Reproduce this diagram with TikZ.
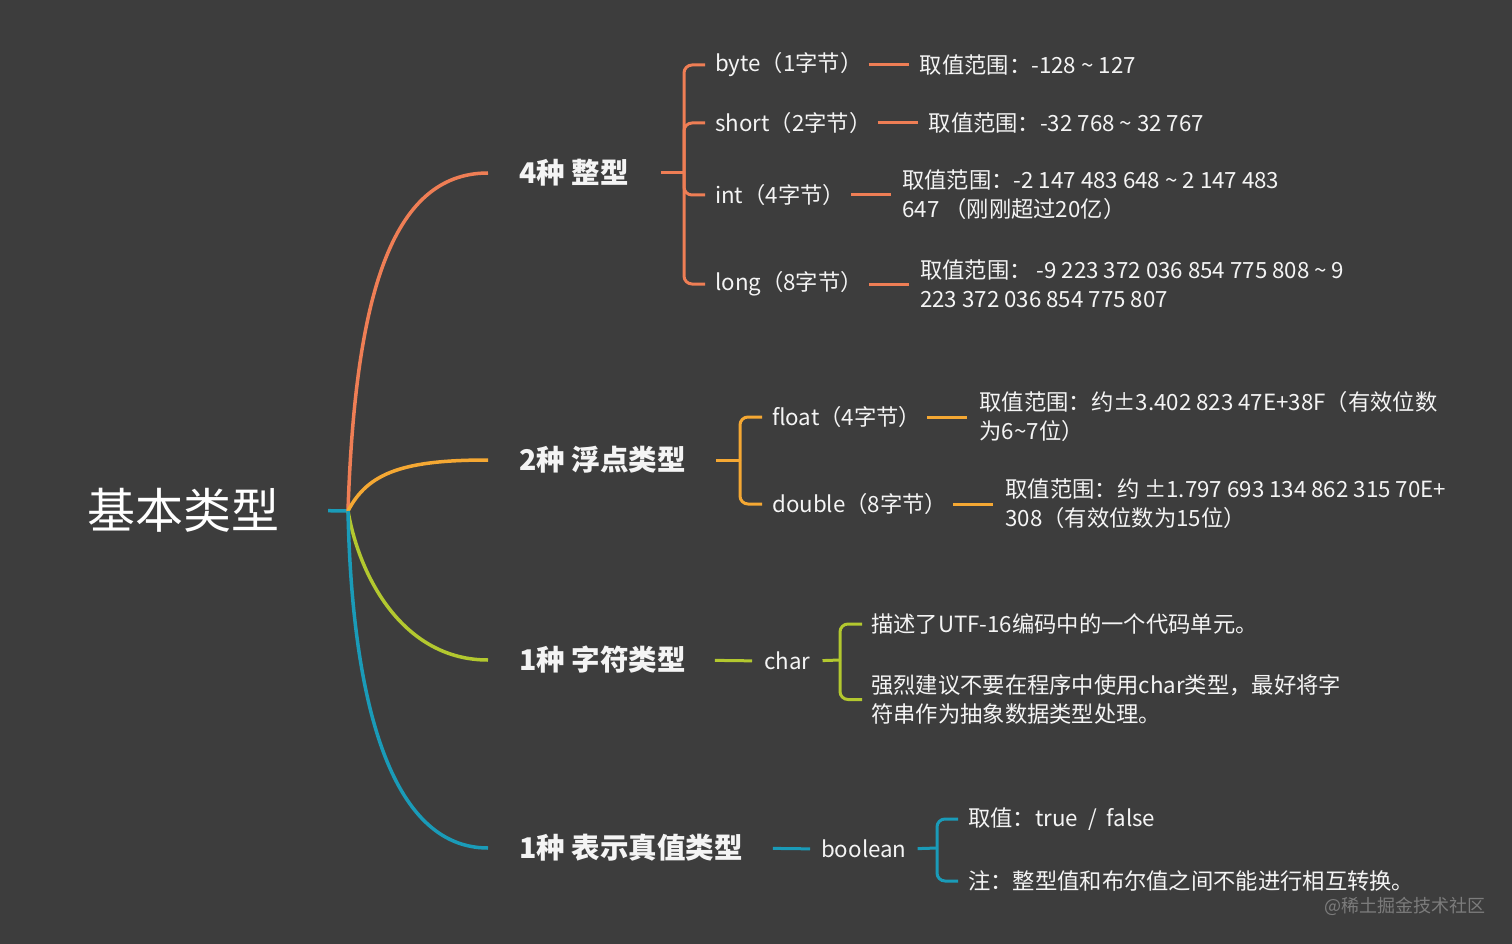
\documentclass[tikz,border=0pt]{standalone}
\usepackage{fontspec}
\setmainfont{Noto Sans CJK SC}
\usetikzlibrary{positioning}
\definecolor{bg}{HTML}{3D3D3D}
\definecolor{corange}{HTML}{EF7E55}
\definecolor{cyellow}{HTML}{F5A833}
\definecolor{cgreen}{HTML}{B3C82F}
\definecolor{cteal}{HTML}{1A9BB8}
\definecolor{txt}{HTML}{F4F4F4}
\definecolor{wm}{HTML}{7C7C7C}
\newcommand{\tld}{\textasciitilde}
\begin{document}
\begin{tikzpicture}[x=1pt,y=-1pt,
  mainline/.style={line width=3.5pt},
  conn/.style={line width=3pt},
  brk/.style={line width=3pt, rounded corners=8pt},
  lbl/.style={inner sep=0pt, anchor=west, text=txt, font=\fontsize{22.3}{29}\selectfont, align=left},
  branch/.style={inner sep=0pt, anchor=west, text=txt, font=\fontsize{28.5}{34}\selectfont\bfseries},
]
\fill[bg] (0,0) rectangle (1512,944);
\useasboundingbox (0,0) rectangle (1512,944);

% root
\node[inner sep=0pt, text=white, font=\fontsize{48}{56}\selectfont] (root) at (183,510) {基本类型};
\coordinate (j) at (348,511);
\draw[mainline, cteal, shorten <=49pt] (root.east) -- (j);

% main branches
\node[branch] (b1) at (519,173) {4种 整型};
\node[branch] (b2) at (519,460) {2种 浮点类型};
\node[branch] (b3) at (519,660) {1种 字符类型};
\node[branch] (b4) at (519,848) {1种 表示真值类型};

\draw[mainline, corange] (j) .. controls (355,300) and (390,173) .. ([xshift=-31pt]b1.west);
\draw[mainline, cyellow] (j) .. controls (368,472) and (405,460) .. ([xshift=-31pt]b2.west);
\draw[mainline, cgreen] (j) .. controls (360,580) and (405,660) .. ([xshift=-31pt]b3.west);
\draw[mainline, cteal] (j) .. controls (352,700) and (390,848) .. ([xshift=-31pt]b4.west);

% ---------- integers ----------
\coordinate (k1) at (684,173);
\draw[conn, corange, shorten <=32pt] (b1.east) -- (k1);
\node[lbl] (byte) at (715,65) {byte（1字节）};
\node[lbl] (short) at (715,123) {short（2字节）};
\node[lbl] (int) at (715,195) {int（4字节）};
\node[lbl] (long) at (715,284) {long（8字节）};
\foreach \c in {byte,short,int,long}
  \draw[brk, corange] (k1) |- ([xshift=-10pt]\c.west);

\node[lbl, right=57pt of byte] (rbyte) {取值范围：-128 \tld{} 127};
\node[lbl, right=57pt of short] (rshort) {取值范围：-32 768 \tld{} 32 767};
\node[lbl, right=57pt of int] (rint) {取值范围：-2 147 483 648 \tld{} 2 147 483\\647 （刚刚超过20亿）};
\node[lbl, right=57pt of long] (rlong) {取值范围： -9 223 372 036 854 775 808 \tld{} 9\\223 372 036 854 775 807};
\draw[conn, corange, shorten <=6pt, shorten >=11pt] (byte.east) -- (rbyte.west);
\draw[conn, corange, shorten <=6pt, shorten >=11pt] (short.east) -- (rshort.west);
\draw[conn, corange, shorten <=6pt, shorten >=11pt] (int.east) -- (rint.west);
\draw[conn, corange, shorten <=6pt, shorten >=11pt] (long.east) -- (rlong.west);

% ---------- floats ----------
\coordinate (k2) at (740,460);
\draw[conn, cyellow, shorten <=30pt] (b2.east) -- (k2);
\node[lbl] (float) at (772,417) {float（4字节）};
\node[lbl] (double) at (772,504) {double（8字节）};
\foreach \c in {float,double}
  \draw[brk, cyellow] (k2) |- ([xshift=-10pt]\c.west);
\node[lbl, right=58pt of float] (rfloat) {取值范围：约±3.402 823 47E+38F（有效位数\\为6\tld{}7位）};
\node[lbl, right=58pt of double] (rdouble) {取值范围：约 ±1.797 693 134 862 315 70E+\\308（有效位数为15位）};
\draw[conn, cyellow, shorten <=6pt, shorten >=12pt] (float.east) -- (rfloat.west);
\draw[conn, cyellow, shorten <=6pt, shorten >=12pt] (double.east) -- (rdouble.west);

% ---------- char ----------
\node[lbl] (char) at (764,661) {char};
\draw[conn, cgreen, shorten <=29pt, shorten >=12pt] (b3.east) -- (char.west);
\coordinate (k3) at (840,660);
\draw[conn, cgreen, shorten <=12pt] (char.east) -- (k3);
\node[lbl] (c1) at (871,624) {描述了UTF-16编码中的一个代码单元。};
\node[lbl] (c2) at (871,699.5) {强烈建议不要在程序中使用char类型，最好将字\\符串作为抽象数据类型处理。};
\foreach \c in {c1,c2}
  \draw[brk, cgreen] (k3) |- ([xshift=-9pt]\c.west);

% ---------- boolean ----------
\node[lbl] (bool) at (821,849) {boolean};
\draw[conn, cteal, shorten <=30pt, shorten >=11pt] (b4.east) -- (bool.west);
\coordinate (k4) at (937,848);
\draw[conn, cteal, shorten <=11pt] (bool.east) -- (k4);
\node[lbl] (t1) at (968,819) {取值：true ~/~ false};
\node[lbl] (t2) at (968,881) {注：整型值和布尔值之间不能进行相互转换。};
\foreach \c in {t1,t2}
  \draw[brk, cteal] (k4) |- ([xshift=-10pt]\c.west);

% watermark
\node[inner sep=0pt, text=wm, font=\fontsize{18}{20}\selectfont] (wmark) at (1405,906) {@稀土掘金技术社区};
\end{tikzpicture}
\end{document}
